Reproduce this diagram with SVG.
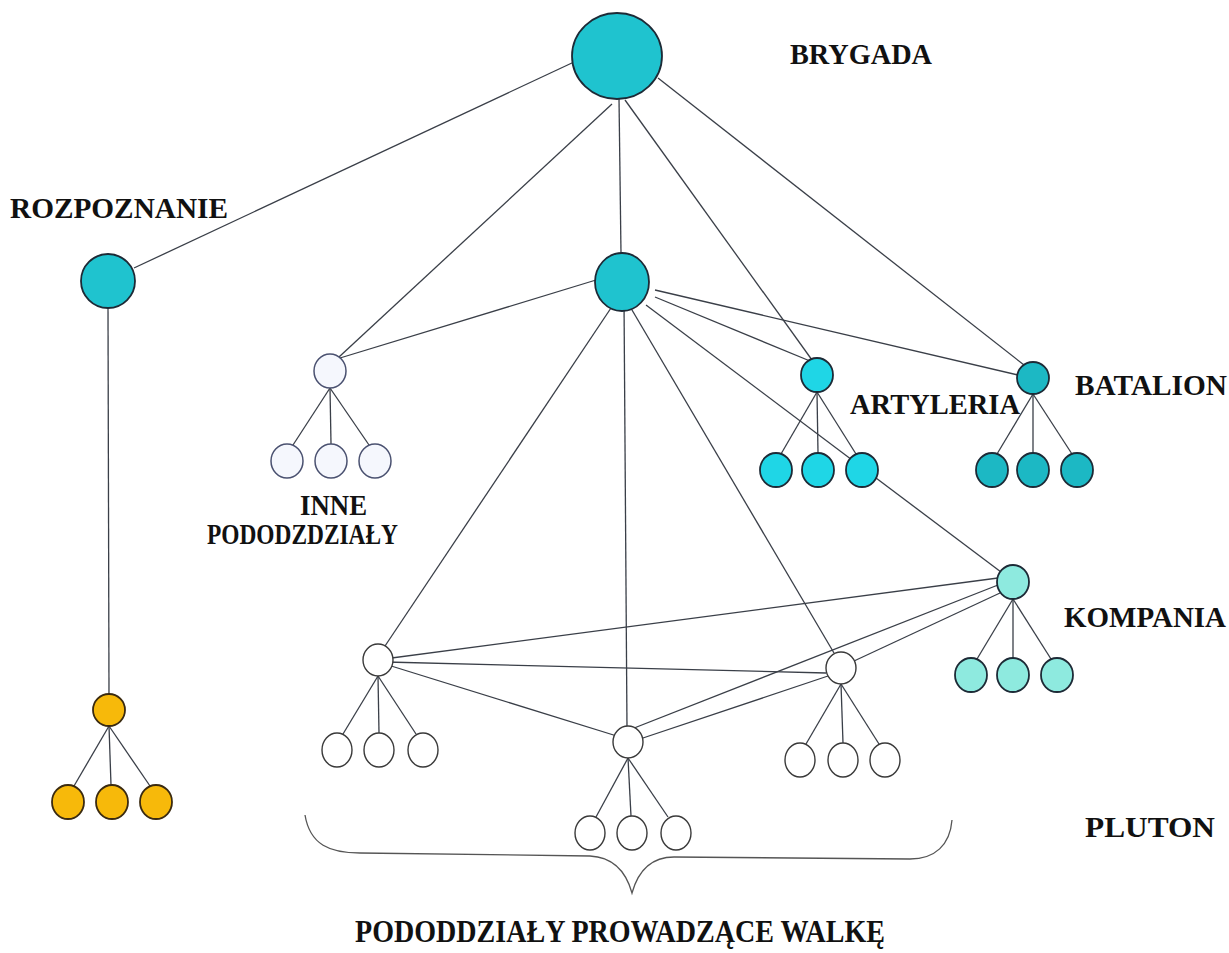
<svg xmlns="http://www.w3.org/2000/svg" width="1229" height="953" viewBox="0 0 1229 953">
<style>
.bg{fill:#ffffff}
.edge{stroke:#3a3f48;stroke-width:1.3;fill:none}
.n{stroke:#1d2a36;stroke-width:1.8}
.teal{fill:#1fc3cf}
.bat{fill:#1cb8c4}
.art{fill:#1fd6e6}
.komp{fill:#8eeadf}
.orange{fill:#f7b90a;stroke:#3a2a10}
.inne{fill:#f5f7fd;stroke:#4a5170;stroke-width:1.5}
.plut{fill:#ffffff;stroke:#3a3a3a;stroke-width:1.4}
.lbl{font-family:"Liberation Serif","Times New Roman",serif;font-weight:bold;font-size:29px;fill:#111}
.big{font-size:31px}
.brace{stroke:#555;stroke-width:1.3;fill:none}
</style>
<rect class="bg" x="0" y="0" width="1229" height="953"/>
<g id="connectors">
  <line class="edge" x1="574" y1="62" x2="134" y2="268"/>
  <line class="edge" x1="619" y1="98" x2="621" y2="254"/>
  <line class="edge" x1="612" y1="104" x2="339" y2="357"/>
  <line class="edge" x1="625" y1="100" x2="812" y2="360"/>
  <line class="edge" x1="658" y1="78" x2="1024" y2="365"/>
  <line class="edge" x1="596" y1="280" x2="340" y2="358"/>
  <line class="edge" x1="655" y1="297" x2="810" y2="361"/>
  <line class="edge" x1="655" y1="290" x2="1018" y2="375"/>
  <line class="edge" x1="646" y1="305" x2="1001" y2="572"/>
  <line class="edge" x1="611" y1="308" x2="385" y2="646"/>
  <line class="edge" x1="624" y1="300" x2="627" y2="728"/>
  <line class="edge" x1="632" y1="310" x2="834" y2="653"/>
  <line class="edge" x1="998" y1="578" x2="384" y2="659"/>
  <line class="edge" x1="386" y1="662" x2="826" y2="673"/>
  <line class="edge" x1="388" y1="665" x2="620" y2="737"/>
  <line class="edge" x1="998" y1="585" x2="624" y2="732"/>
  <line class="edge" x1="634" y1="741" x2="828" y2="676"/>
  <line class="edge" x1="854" y1="661" x2="1000" y2="593"/>
  <line class="edge" x1="108" y1="308" x2="109" y2="694"/>
  <line class="edge" x1="330" y1="388" x2="293" y2="445"/>
  <line class="edge" x1="330" y1="388" x2="331" y2="444"/>
  <line class="edge" x1="330" y1="388" x2="369" y2="445"/>
  <line class="edge" x1="817" y1="392" x2="781" y2="454"/>
  <line class="edge" x1="817" y1="392" x2="818" y2="453"/>
  <line class="edge" x1="817" y1="392" x2="856" y2="454"/>
  <line class="edge" x1="1033" y1="394" x2="997" y2="454"/>
  <line class="edge" x1="1033" y1="394" x2="1033" y2="453"/>
  <line class="edge" x1="1033" y1="394" x2="1072" y2="454"/>
  <line class="edge" x1="1013" y1="599" x2="977" y2="659"/>
  <line class="edge" x1="1013" y1="599" x2="1013" y2="658"/>
  <line class="edge" x1="1013" y1="599" x2="1051" y2="659"/>
  <line class="edge" x1="109" y1="726" x2="74" y2="786"/>
  <line class="edge" x1="109" y1="726" x2="111" y2="785"/>
  <line class="edge" x1="109" y1="726" x2="150" y2="786"/>
  <line class="edge" x1="378" y1="676" x2="343" y2="734"/>
  <line class="edge" x1="378" y1="676" x2="379" y2="733"/>
  <line class="edge" x1="378" y1="676" x2="416" y2="734"/>
  <line class="edge" x1="628" y1="758" x2="596" y2="817"/>
  <line class="edge" x1="628" y1="758" x2="631" y2="816"/>
  <line class="edge" x1="628" y1="758" x2="668" y2="817"/>
  <line class="edge" x1="841" y1="684" x2="806" y2="744"/>
  <line class="edge" x1="841" y1="684" x2="843" y2="743"/>
  <line class="edge" x1="841" y1="684" x2="879" y2="744"/>
</g>
<g id="brace">
  <path class="brace" d="M305,815 C310,845 330,853 360,853 L590,856 C610,857 625,868 632,893 C639,868 654,857 674,857 L910,859 C935,859 950,845 952,820"/>
</g>
<g id="brygada">
  <ellipse class="n teal" cx="617" cy="56" rx="45" ry="43"/>
  <text class="lbl" x="790" y="64" textLength="142" lengthAdjust="spacingAndGlyphs">BRYGADA</text>
</g>
<g id="dowodztwo">
  <ellipse class="n teal" cx="622" cy="282" rx="27" ry="29"/>
</g>
<g id="rozpoznanie">
  <ellipse class="n teal" cx="108" cy="281" rx="27" ry="27"/>
  <text class="lbl" x="10" y="218" textLength="218" lengthAdjust="spacingAndGlyphs">ROZPOZNANIE</text>
</g>
<g id="rozpoznanie-sub">
  <ellipse class="n orange" cx="109" cy="710" rx="16" ry="16"/>
  <ellipse class="n orange" cx="68" cy="802" rx="16" ry="17"/>
  <ellipse class="n orange" cx="112" cy="802" rx="16" ry="17"/>
  <ellipse class="n orange" cx="156" cy="802" rx="16" ry="17"/>
</g>
<g id="inne">
  <ellipse class="inne" cx="330" cy="371" rx="16" ry="17"/>
  <ellipse class="inne" cx="287" cy="461" rx="16" ry="17"/>
  <ellipse class="inne" cx="331" cy="461" rx="16" ry="17"/>
  <ellipse class="inne" cx="375" cy="461" rx="16" ry="17"/>
  <text class="lbl" x="300" y="515" textLength="67" lengthAdjust="spacingAndGlyphs">INNE</text>
  <text class="lbl" x="207" y="544" textLength="191" lengthAdjust="spacingAndGlyphs">PODODZDZIAŁY</text>
</g>
<g id="artyleria">
  <ellipse class="n art" cx="817" cy="375" rx="16" ry="17"/>
  <ellipse class="n art" cx="776" cy="470" rx="16" ry="17"/>
  <ellipse class="n art" cx="818" cy="470" rx="16" ry="17"/>
  <ellipse class="n art" cx="862" cy="470" rx="16" ry="17"/>
  <text class="lbl" x="850" y="414" textLength="170" lengthAdjust="spacingAndGlyphs">ARTYLERIA</text>
</g>
<g id="batalion">
  <ellipse class="n bat" cx="1033" cy="378" rx="16" ry="16"/>
  <ellipse class="n bat" cx="992" cy="470" rx="16" ry="17"/>
  <ellipse class="n bat" cx="1033" cy="470" rx="16" ry="17"/>
  <ellipse class="n bat" cx="1077" cy="470" rx="16" ry="17"/>
  <text class="lbl" x="1075" y="395" textLength="152" lengthAdjust="spacingAndGlyphs">BATALION</text>
</g>
<g id="kompania">
  <ellipse class="n komp" cx="1013" cy="582" rx="16" ry="17"/>
  <ellipse class="n komp" cx="971" cy="675" rx="16" ry="17"/>
  <ellipse class="n komp" cx="1013" cy="675" rx="16" ry="17"/>
  <ellipse class="n komp" cx="1057" cy="675" rx="16" ry="17"/>
  <text class="lbl" x="1064" y="627" textLength="162" lengthAdjust="spacingAndGlyphs">KOMPANIA</text>
</g>
<g id="pluton-left">
  <ellipse class="plut" cx="378" cy="660" rx="15" ry="16"/>
  <ellipse class="plut" cx="337" cy="750" rx="15" ry="17"/>
  <ellipse class="plut" cx="379" cy="750" rx="15" ry="17"/>
  <ellipse class="plut" cx="423" cy="750" rx="15" ry="17"/>
</g>
<g id="pluton-middle">
  <ellipse class="plut" cx="628" cy="742" rx="15" ry="16"/>
  <ellipse class="plut" cx="590" cy="833" rx="15" ry="17"/>
  <ellipse class="plut" cx="632" cy="833" rx="15" ry="17"/>
  <ellipse class="plut" cx="676" cy="833" rx="15" ry="17"/>
</g>
<g id="pluton-right">
  <ellipse class="plut" cx="841" cy="668" rx="15" ry="16"/>
  <ellipse class="plut" cx="800" cy="760" rx="15" ry="17"/>
  <ellipse class="plut" cx="843" cy="760" rx="15" ry="17"/>
  <ellipse class="plut" cx="885" cy="760" rx="15" ry="17"/>
  <text class="lbl" x="1085" y="837" textLength="130" lengthAdjust="spacingAndGlyphs">PLUTON</text>
</g>
<g id="labels">
  <text class="lbl big" x="355" y="942" textLength="530" lengthAdjust="spacingAndGlyphs">PODODDZIAŁY PROWADZĄCE WALKĘ</text>
</g>
</svg>
